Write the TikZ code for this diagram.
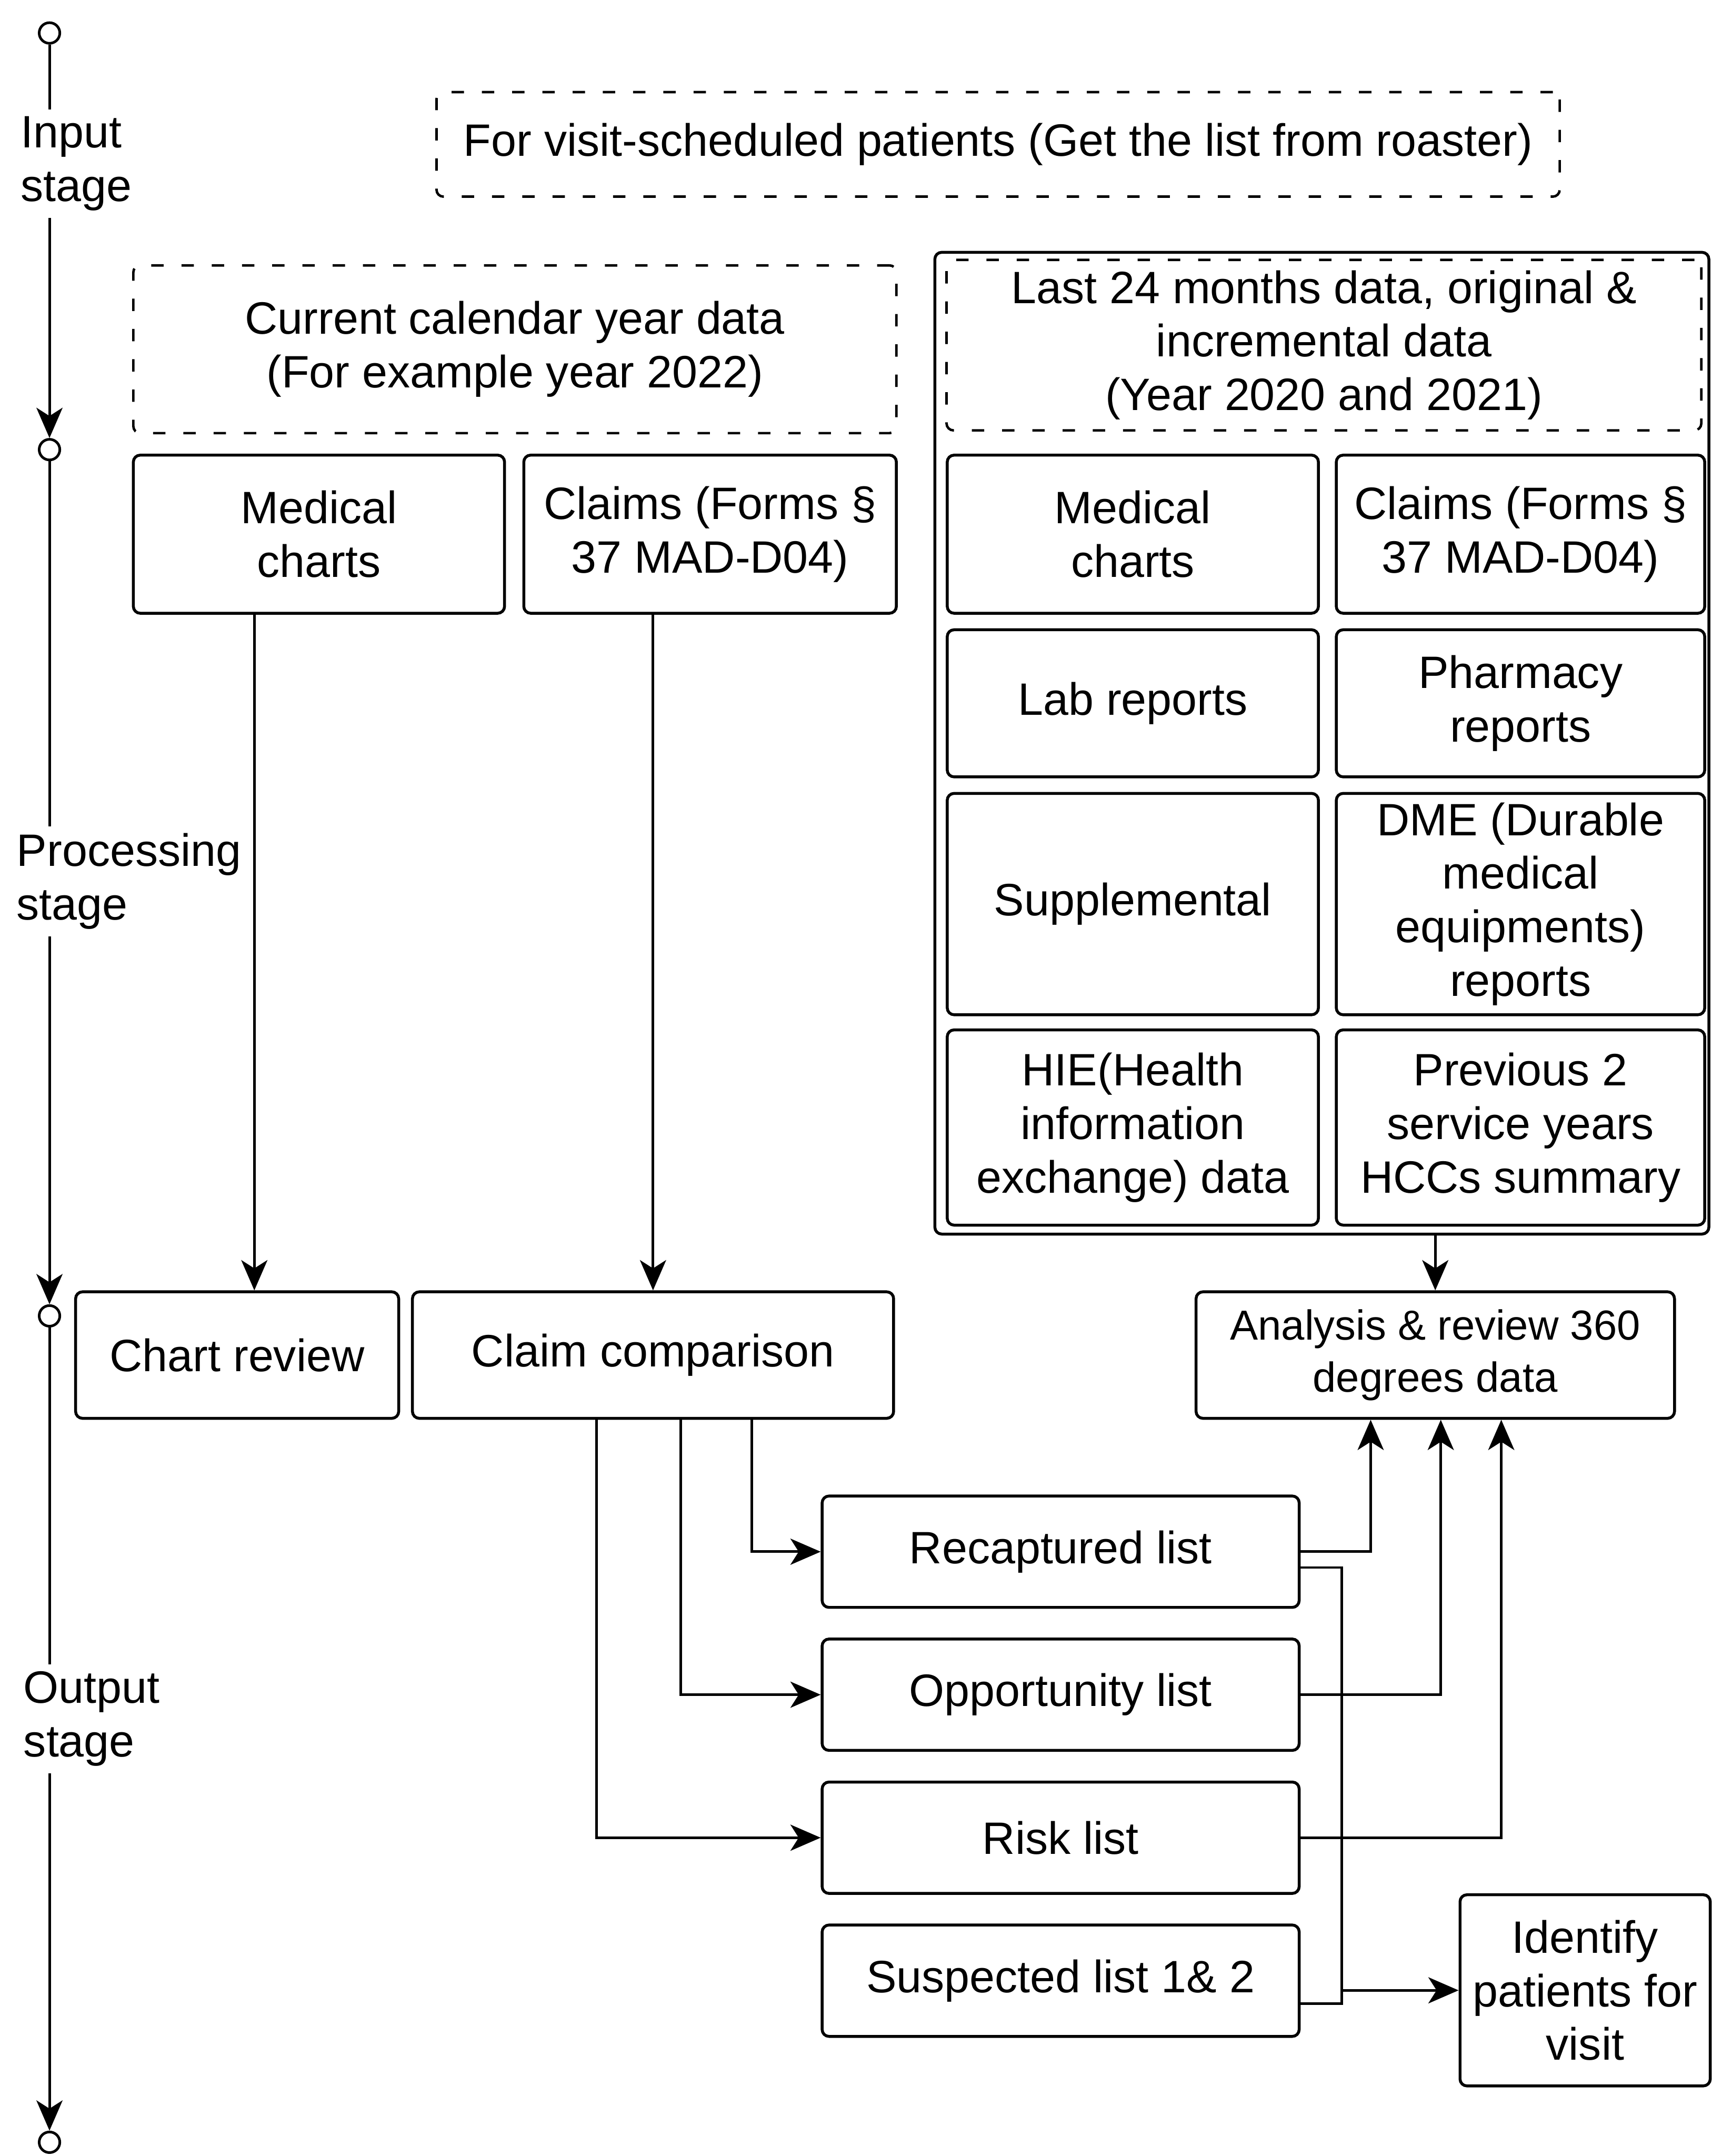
\documentclass[tikz,border=0pt]{standalone}
\usepackage{fontspec}
\setmainfont{Liberation Sans}
\usetikzlibrary{arrows.meta}
\begin{document}
\begin{tikzpicture}[x=1pt,y=-1pt,
  every node/.style={font=\fontsize{33}{39}\selectfont, align=center, inner sep=0pt},
  box/.style={draw, line width=2.1pt, rounded corners=5pt},
  dbox/.style={draw, line width=1.8pt, rounded corners=5pt, dash pattern=on 9pt off 13pt},
  link/.style={line width=1.9pt},
  arr/.style={line width=1.9pt, -{Stealth[length=22pt,width=19pt,inset=6pt]}},
  stagelbl/.style={anchor=west, align=left, inner sep=5pt},
  dot/.style={circle, draw, line width=1.9pt, minimum size=15pt, inner sep=0pt, fill=white}
]
\useasboundingbox (0,0) rectangle (1245,1568);

% ---------- input stage ----------
\node[dbox, minimum width=817pt, minimum height=76pt] (visit) at (726,105)
  {For visit-scheduled patients (Get the list from roaster)};

\node[dbox, minimum width=555pt, minimum height=122pt] (curyear) at (374.5,254)
  {Current calendar year data\\(For example year 2022)};
\node[box, minimum width=270pt, minimum height=115pt] (med1) at (232,388.5)
  {Medical\\charts};
\node[box, minimum width=271pt, minimum height=115pt] (clm1) at (516.5,388.5)
  {Claims (Forms §\\37 MAD-D04)};

% container with the 24-month sources
\node[box, minimum width=563pt, minimum height=714pt] (cont) at (961.5,540.5) {};
\node[dbox, minimum width=549pt, minimum height=124pt] (lasttitle) at (963,251)
  {Last 24 months data, original \&\\incremental data\\(Year 2020 and 2021)};

\node[box, minimum width=270pt, minimum height=115pt] (med2) at (824,388.5) {Medical\\charts};
\node[box, minimum width=268pt, minimum height=115pt] (clm2) at (1106,388.5) {Claims (Forms §\\37 MAD-D04)};
\node[box, minimum width=270pt, minimum height=107pt] (lab) at (824,511.5) {Lab reports};
\node[box, minimum width=268pt, minimum height=107pt] (pharm) at (1106,511.5) {Pharmacy\\reports};
\node[box, minimum width=270pt, minimum height=161pt] (supp) at (824,657.5) {Supplemental};
\node[box, minimum width=268pt, minimum height=161pt] (dme) at (1106,657.5) {DME (Durable\\medical\\equipments)\\reports};
\node[box, minimum width=270pt, minimum height=142pt] (hie) at (824,820) {HIE(Health\\information\\exchange) data};
\node[box, minimum width=268pt, minimum height=142pt] (prev) at (1106,820) {Previous 2\\service years\\HCCs summary};

% ---------- processing stage ----------
\node[box, minimum width=235pt, minimum height=92pt] (chart) at (172.5,985.5) {Chart review};
\node[box, minimum width=350pt, minimum height=92pt] (claim) at (475,985.5) {Claim comparison};
\node[box, minimum width=348pt, minimum height=92pt, font=\fontsize{30.5}{38}\selectfont] (ana) at (1044,985.5)
  {Analysis \& review 360\\degrees data};

% ---------- output stage ----------
\node[box, minimum width=347pt, minimum height=81pt] (recap) at (771.5,1128.5) {Recaptured list};
\node[box, minimum width=347pt, minimum height=81pt] (opp) at (771.5,1232.5) {Opportunity list};
\node[box, minimum width=347pt, minimum height=81pt] (risk) at (771.5,1336.5) {Risk list};
\node[box, minimum width=347pt, minimum height=81pt] (susp) at (771.5,1440.5) {Suspected list 1\& 2};
\node[box, minimum width=182pt, minimum height=139pt] (ident) at (1153,1447.5) {Identify\\patients for\\visit};

% ---------- stage timeline ----------
\node[stagelbl] (inlbl) at (10,119) {Input\\stage};
\node[stagelbl] (proclbl) at (7,641) {Processing\\stage};
\node[stagelbl] (outlbl) at (12,1250) {Output\\stage};
\node[dot] (t1) at (36,24) {};
\node[dot] (t2) at (36,327) {};
\node[dot] (t3) at (36,957) {};
\node[dot] (t4) at (36,1558) {};

\draw[link] (t1.south) -- (t1.south |- inlbl.north);
\draw[arr] (t1.south |- inlbl.south) -- (t2.north);
\draw[link] (t2.south) -- (t2.south |- proclbl.north);
\draw[arr] (t2.south |- proclbl.south) -- (t3.north);
\draw[link] (t3.south) -- (t3.south |- outlbl.north);
\draw[arr] (t3.south |- outlbl.south) -- (t4.north);

% ---------- connectors ----------
\coordinate (medx) at (185,0);
\draw[arr] (med1.south -| medx) -- (chart.north -| medx);
\draw[arr] (clm1.south -| claim.north) -- (claim.north);
\draw[arr] (cont.south -| ana.north) -- (ana.north);

\draw[arr] ([xshift=72pt]claim.south) |- (recap.west);
\draw[arr] ([xshift=20pt]claim.south) |- (opp.west);
\draw[arr] ([xshift=-41pt]claim.south) |- (risk.west);

\draw[arr] (recap.east) -| ([xshift=-47pt]ana.south);
\draw[arr] (opp.east) -| ([xshift=4pt]ana.south);
\draw[arr] (risk.east) -| ([xshift=48pt]ana.south);

\coordinate (join) at (976,1447.5);
\draw[arr] ([yshift=-11.5pt]recap.east) -| (join) -- (ident.west);
\draw[link] ([yshift=-16.5pt]susp.east) -| (join);
\end{tikzpicture}
\end{document}
